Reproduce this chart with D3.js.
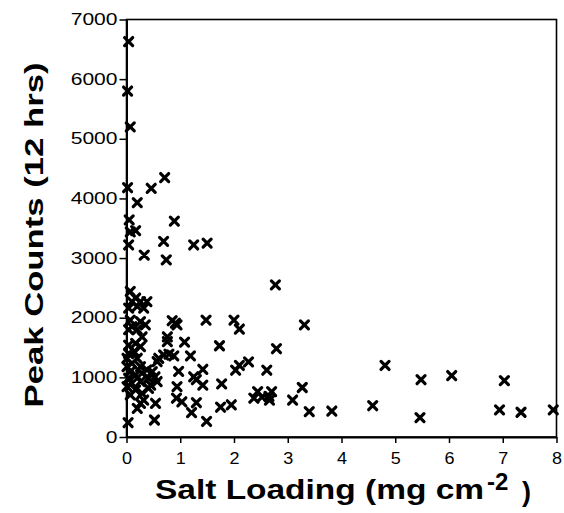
<!DOCTYPE html>
<html>
<head>
<meta charset="utf-8">
<script src="https://cdn.jsdelivr.net/npm/d3@7"></script>
<style>
  html, body { margin: 0; padding: 0; background: #fff; }
  svg { display: block; }
  .tick text { font-family: "Liberation Sans", Arial, sans-serif; }
</style>
</head>
<body>
<svg id="chart" width="564" height="513"></svg>
<script>
// Salt loading (mg cm^-2) for each sample
const saltLoading = [
  0.04, 0.02, 0.07, 0.02, 0.46, 0.71, 0.20, 0.05, 0.17, 0.07,
  0.04, 0.89, 0.69, 0.74, 1.25, 1.50, 0.33, 2.77, 3.31, 1.48,
  2.00, 2.10, 1.73, 2.79, 0.91, 0.85, 0.94, 0.76, 0.76, 1.08,
  2.27, 2.10, 2.03, 2.61, 1.77, 3.27, 3.09, 1.75, 1.95, 2.37,
  2.44, 2.52, 2.65, 2.70, 2.66, 3.40, 3.82, 4.81, 5.48, 6.05,
  7.03, 4.58, 5.46, 6.94, 7.34, 7.94, 0.52, 1.49, 0.03, 1.21,
  1.30, 0.93, 1.03, 0.94, 1.42, 1.42, 1.25, 1.30, 1.19, 0.97,
  0.60, 0.69, 0.79, 0.88, 0.57, 0.53, 0.57, 0.54, 0.29, 0.41,
  0.26, 0.20, 0.07, 0.17, 0.26, 0.38, 0.10, 0.04, 0.20, 0.32,
  0.07, 0.26, 0.35, 0.10, 0.20, 0.04, 0.29, 0.17, 0.04, 0.26,
  0.14, 0.04, 0.01, 0.20, 0.10, 0.01, 0.26, 0.38, 0.07, 0.48,
  0.17, 0.29, 0.04, 0.41, 0.10, 0.26, 0.01, 0.17, 0.07, 0.45,
  0.32
];

// Peak counts over 12 hours for the same samples
const peakCounts = [
  6630, 5800, 5200, 4180, 4170, 4350, 3930, 3640, 3460, 3440,
  3220, 3620, 3280, 2970, 3220, 3250, 3050, 2550, 1880, 1960,
  1960, 1810, 1530, 1480, 1910, 1950, 1880, 1680, 1600, 1590,
  1260, 1200, 1120, 1120,  890,  830,  620,  500,  540,  650,
   760,  670,  680,  760,  620,  425,  435, 1200,  960, 1030,
   945,  525,  325,  455,  415,  455,  285,  260,  240,  410,
   575,  650,  590,  845,  870, 1135, 1010,  960, 1360, 1100,
  1320, 1375, 1390, 1360, 1265, 1010,  930,  565,  730,  815,
   565,  480, 2440, 2330, 2270, 2270, 2270, 2160, 2190, 2160,
  1960, 1935, 1880, 1850, 1800, 1800, 1680, 1570, 1540, 1515,
  1430, 1400, 1320, 1320, 1235, 1180, 1180, 1125, 1095, 1095,
  1040, 1070,  985,  985,  900,  930,  845,  790,  705,  870,
   620
];

const xTicks = [0, 1, 2, 3, 4, 5, 6, 7, 8];
const yTicks = [0, 1000, 2000, 3000, 4000, 5000, 6000, 7000];

const svg = d3.select("#chart");
const plotLeft = 126.5, plotRight = 556.5, plotTop = 19.5, plotBottom = 437;

const x = d3.scaleLinear().domain([0, 8]).range([plotLeft, plotRight]);
const y = d3.scaleLinear().domain([0, 7000]).range([plotBottom, plotTop]);

// frame (top and right edges)
svg.append("rect")
  .attr("x", plotLeft).attr("y", plotTop)
  .attr("width", plotRight - plotLeft).attr("height", plotBottom - plotTop)
  .attr("fill", "none").attr("stroke", "#000").attr("stroke-width", 1.6);

// x axis
const gx = svg.append("g")
  .attr("transform", `translate(0,${plotBottom})`)
  .call(d3.axisBottom(x).tickValues(xTicks).tickSize(6).tickPadding(10).tickSizeOuter(0));
gx.select(".domain").attr("stroke-width", 2);
gx.selectAll(".tick line").attr("stroke-width", 1.5);
gx.selectAll(".tick text")
  .attr("font-size", 16).attr("fill", "#000")
  .attr("textLength", 10).attr("lengthAdjust", "spacingAndGlyphs");

// y axis
const gy = svg.append("g")
  .attr("transform", `translate(${plotLeft},0)`)
  .call(d3.axisLeft(y).tickValues(yTicks).tickFormat(d3.format("d")).tickSize(7).tickPadding(2).tickSizeOuter(0));
gy.select(".domain").attr("stroke-width", 2);
gy.selectAll(".tick line").attr("stroke-width", 1.5);
gy.selectAll(".tick text")
  .attr("font-size", 16).attr("fill", "#000")
  .each(function(d) {
    const n = String(d).length;
    d3.select(this).attr("textLength", 11.7 * n).attr("lengthAdjust", "spacingAndGlyphs");
  });

// x markers
const pts = saltLoading.map((v, i) => ({ s: v, c: peakCounts[i] }));
svg.append("g")
  .selectAll("path")
  .data(pts)
  .join("path")
  .attr("transform", d => `translate(${x(d.s)},${y(d.c)})`)
  .attr("d", "M-4,-4L4,4M-4,4L4,-4")
  .attr("fill", "none")
  .attr("stroke", "#000")
  .attr("stroke-width", 3.2)
  .attr("stroke-linecap", "round");

// axis titles
const titleFont = "'Liberation Sans', Arial, sans-serif";
svg.append("text")
  .attr("x", 155).attr("y", 499)
  .attr("font-family", titleFont).attr("font-weight", "bold").attr("font-size", 27)
  .attr("textLength", 329).attr("lengthAdjust", "spacingAndGlyphs")
  .text("Salt Loading (mg cm");
svg.append("text")
  .attr("x", 487).attr("y", 490)
  .attr("font-family", titleFont).attr("font-weight", "bold").attr("font-size", 24)
  .text("-2");
svg.append("text")
  .attr("x", 522).attr("y", 501)
  .attr("font-family", titleFont).attr("font-weight", "bold").attr("font-size", 27)
  .text(")");

svg.append("text")
  .attr("transform", "translate(43,235) rotate(-90)")
  .attr("text-anchor", "middle")
  .attr("font-family", titleFont).attr("font-weight", "bold").attr("font-size", 25)
  .attr("textLength", 345).attr("lengthAdjust", "spacingAndGlyphs")
  .text("Peak Counts (12 hrs)");
</script>
</body>
</html>
